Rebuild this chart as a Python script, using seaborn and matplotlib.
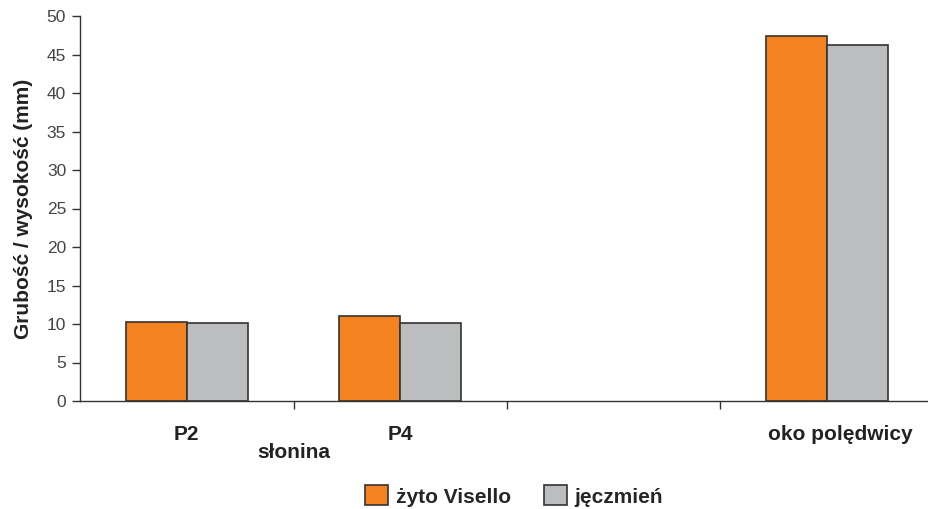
import matplotlib
matplotlib.use("Agg")
import matplotlib.pyplot as plt
import seaborn as sns
import pandas as pd
from matplotlib.patches import Patch

# Measured thickness / height per cut
categories = ["P2", "P4", " ", "oko polędwicy"]
series = ["żyto Visello", "jęczmień"]
zyto = [10.3, 11.1, None, 47.4]
jeczmien = [10.1, 10.1, None, 46.2]
group_label = "słonina"
y_label = "Grubość / wysokość (mm)"
y_ticks = [0, 5, 10, 15, 20, 25, 30, 35, 40, 45, 50]

colors = ["#F58220", "#BCBDBF"]

rows = []
for cat, a, b in zip(categories, zyto, jeczmien):
    if a is not None:
        rows.append({"cat": cat, "grp": series[0], "val": a})
    if b is not None:
        rows.append({"cat": cat, "grp": series[1], "val": b})
df = pd.DataFrame(rows)

sns.set_style("white")
plt.rcParams["font.family"] = ["Liberation Sans", "DejaVu Sans"]

fig = plt.figure(figsize=(9.29, 5.09), dpi=100)
ax = fig.add_axes([80 / 929, 108 / 509, 854 / 929, 385 / 509])

sns.barplot(data=df, x="cat", y="val", hue="grp", order=categories,
            hue_order=series, palette=colors, width=0.57, dodge=True,
            edgecolor="#333333", linewidth=1.2, saturation=1, ax=ax,
            legend=False)

ax.set_xlim(-0.5, 3.5)
ax.set_ylim(0, 50)
ax.set_yticks(y_ticks)
ax.set_yticklabels([str(t) for t in y_ticks], fontsize=12.5, color="#444444")
ax.set_ylabel(y_label, fontsize=15, fontweight="bold", color="#222222", labelpad=10)
ax.set_xlabel("")

# Boundary ticks between category slots; labels sit near the slot centres
ax.set_xticks([0.5, 1.5, 2.5])
ax.set_xticklabels([])
ax.set_xticks([0, 1, 2, 3.06], minor=True)
ax.set_xticklabels(categories, minor=True, fontsize=15, fontweight="bold", color="#222222")
ax.tick_params(axis="x", which="major", direction="out", length=6, width=1, color="#333333", bottom=True)
ax.tick_params(axis="x", which="minor", length=0, pad=17)
ax.tick_params(axis="y", direction="out", length=6, width=1, color="#333333", left=True, pad=4)

ax.text(0.5, -0.135, group_label, transform=ax.get_xaxis_transform(),
        ha="center", va="center", fontsize=15, fontweight="bold", color="#222222")

for side in ["top", "right"]:
    ax.spines[side].set_visible(False)
for side in ["left", "bottom"]:
    ax.spines[side].set_color("#333333")
    ax.spines[side].set_linewidth(1)

handles = [Patch(facecolor=c, edgecolor="#333333", linewidth=1.2) for c in colors]
fig.legend(handles, series, loc="center", bbox_to_anchor=(514 / 929, 1 - 496 / 509),
           ncol=2, frameon=False, handlelength=1.1, handleheight=1.1,
           columnspacing=1.6, handletextpad=0.35,
           prop={"size": 15, "weight": "bold"})

fig.savefig("out.png", dpi=100)
